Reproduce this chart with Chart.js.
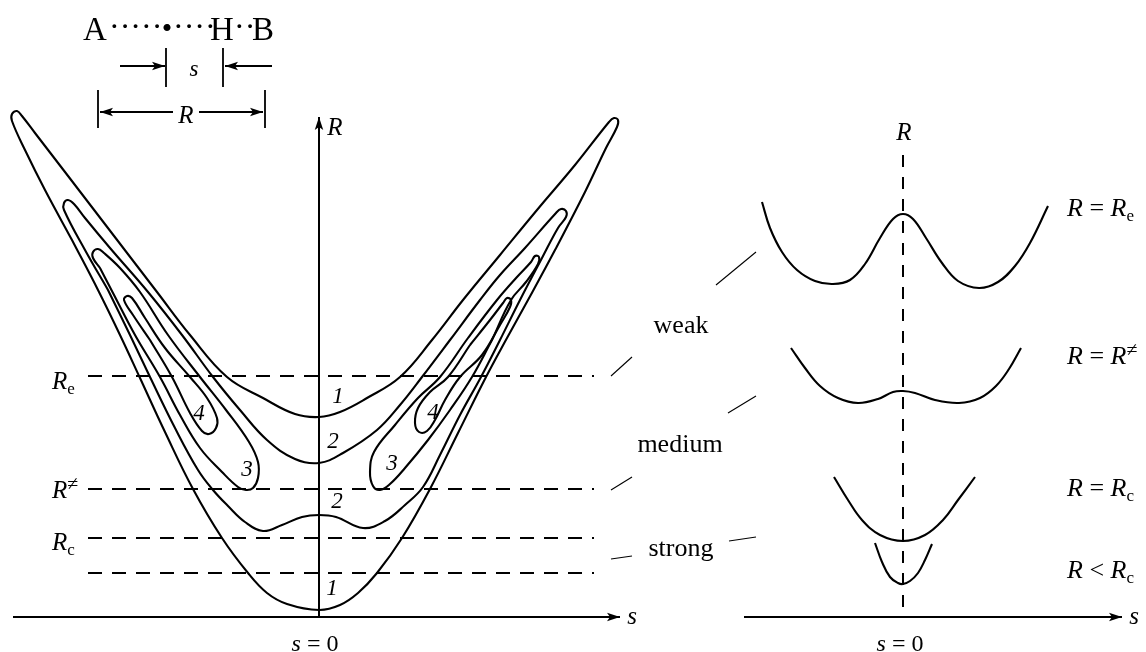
<!DOCTYPE html>
<html>
<head>
<meta charset="utf-8">
<script src="https://cdn.jsdelivr.net/npm/chart.js@4.4.1/dist/chart.umd.min.js"></script>
<style>
  html, body { margin: 0; padding: 0; background: #fff; }
  canvas { display: block; }
</style>
</head>
<body>
<canvas id="chart" width="1146" height="652"></canvas>
<script>
// Left panel: contour lines of the potential surface, s across, R up (s = 0 on the R axis)
// every contour is a closed loop of [s, R] points
const contour1 = [
  [-247, 377], [-221, 327], [-199, 282], [-179, 239], [-154, 185], [-126, 128], [-97, 79],
  [-71, 44], [-52, 24], [-32, 13], [0, 7], [21, 12], [39, 24], [58, 44], [83, 79], [111, 128],
  [139, 184], [167, 240], [188, 279], [209, 317], [236, 367], [266, 425], [287, 469], [298, 490],
  [299, 497], [295, 499], [290, 495], [256, 452], [218, 407], [181, 362], [144, 317], [113, 277],
  [81, 240], [48, 219], [21, 205], [0, 200], [-24, 203], [-56, 219], [-92, 240], [-129, 282],
  [-162, 325], [-208, 385], [-254, 445], [-284, 484], [-297, 501], [-302, 506], [-307, 503],
  [-307, 496], [-294, 467], [-274, 427], [-247, 377]
];
const contour2 = [
  [-211, 327], [-189, 282], [-169, 240], [-144, 189], [-121, 147], [-106, 127], [-91, 111],
  [-74, 95], [-56, 86], [-37, 92], [-17, 100], [0, 102], [17, 100], [44, 89], [66, 96],
  [86, 112], [104, 130], [121, 162], [141, 202], [162, 240], [181, 277], [201, 317], [223, 359],
  [239, 389], [247, 400], [247, 406], [242, 408], [237, 404], [206, 369], [181, 342], [161, 317],
  [131, 277], [103, 240], [81, 212], [58, 187], [24, 164], [0, 154], [-24, 158], [-52, 177],
  [-79, 207], [-106, 240], [-137, 282], [-171, 325], [-209, 369], [-234, 399], [-245, 413],
  [-251, 417], [-255, 414], [-255, 407], [-234, 367], [-211, 327]
];
const contour3Left = [
  [-219, 349], [-206, 324], [-184, 282], [-159, 240], [-139, 202], [-119, 169], [-97, 145],
  [-81, 130], [-73, 127], [-66, 129], [-61, 139], [-61, 155], [-70, 175], [-93, 207],
  [-119, 240], [-151, 282], [-179, 325], [-199, 349], [-215, 364], [-221, 368], [-226, 365],
  [-226, 359], [-219, 349]
];
const contour3Right = [
  [173, 277], [153, 240], [131, 207], [109, 177], [86, 149], [71, 133], [61, 127], [54, 131],
  [51, 145], [55, 165], [76, 192], [99, 219], [121, 240], [149, 279], [178, 317], [198, 340],
  [212, 355], [216, 361], [220, 360], [219, 353], [207, 335], [192, 317], [173, 277]
];
const contour4Left = [
  [-169, 277], [-147, 240], [-129, 204], [-117, 186], [-110, 183], [-103, 189], [-102, 199],
  [-112, 219], [-129, 240], [-154, 269], [-174, 299], [-187, 319], [-192, 321], [-195, 317],
  [-186, 302], [-169, 277]
];
const contour4Right = [
  [151, 272], [171, 297], [184, 314], [188, 319], [192, 317], [191, 310], [181, 292],
  [163, 262], [141, 240], [126, 217], [116, 197], [108, 186], [100, 185], [96, 194],
  [99, 209], [111, 225], [129, 240], [151, 272]
];
const contourLabels = ['1', '2', '2', '1', '4', '3', '3', '4'];

// horizontal cuts through the surface
const levelValues = [241, 128, 79, 44];
const levelNames = [
  [['R', 'i'], ['e', 'sub']],
  [['R', 'i'], ['\u2260', 'sup']],
  [['R', 'i'], ['c', 'sub']],
  null
];

// Right panel: potential along s for a fixed R (s = 0 on the dashed line)
const profileRe = [
  [-141, 415], [-133, 389], [-121, 365], [-106, 347], [-88, 336], [-70, 333], [-53, 337],
  [-38, 353], [-23, 379], [-10, 398], [0, 403], [10, 398], [23, 379], [39, 354], [55, 336],
  [76, 329], [95, 335], [112, 351], [127, 374], [145, 411]
];
const profileRts = [
  [-112, 269], [-98, 249], [-83, 231], [-65, 219], [-45, 214], [-25, 218], [-10, 225], [0, 226],
  [12, 224], [32, 217], [56, 214], [77, 219], [93, 231], [106, 248], [118, 269]
];
const profileRc = [
  [-69, 140], [-55, 117], [-41, 97], [-23, 82], [0, 76], [22, 82], [40, 97], [55, 117], [72, 140]
];
const profileBelow = [
  [-28, 74], [-21, 55], [-13, 40], [-5, 34], [0, 33], [7, 36], [15, 44], [22, 57], [29, 73]
];
const profileNames = [
  [['R', 'i'], [' = ', ''], ['R', 'i'], ['e', 'sub']],
  [['R', 'i'], [' = ', ''], ['R', 'i'], ['\u2260', 'sup']],
  [['R', 'i'], [' = ', ''], ['R', 'i'], ['c', 'sub']],
  [['R', 'i'], [' < ', ''], ['R', 'i'], ['c', 'sub']]
];
const couplingNames = ['weak', 'medium', 'strong'];

const SERIF = '"Liberation Serif", "DejaVu Serif", serif';

function makeArrow() {
  const c = document.createElement('canvas');
  c.width = 28; c.height = 10;
  const g = c.getContext('2d');
  g.fillStyle = '#000';
  g.beginPath();
  g.moveTo(14, 5); g.lineTo(1, 0.8); g.lineTo(4, 5); g.lineTo(1, 9.2);
  g.closePath();
  g.fill();
  return c;
}
const arrowImg = makeArrow();

function line(points, opts) {
  return Object.assign({
    data: points.map(([x, y]) => ({ x, y })),
    showLine: true, fill: false, borderColor: '#000', borderWidth: 2,
    pointRadius: 0, tension: 0, xAxisID: 'x', yAxisID: 'y'
  }, opts || {});
}
function arrowLine(points, rot, opts) {
  const last = points.length - 1;
  return line(points, Object.assign({
    pointStyle: arrowImg, rotation: rot,
    pointRadius: c => (c.dataIndex === last ? 6 : 0)
  }, opts || {}));
}
const curve = pts => line(pts, { tension: 0.4, borderWidth: 2.1 });
const rcurve = pts => line(pts, { tension: 0.4, borderWidth: 2.1, xAxisID: 'x2' });

const datasets = [
  curve(contour1), curve(contour2),
  curve(contour3Left), curve(contour3Right),
  curve(contour4Left), curve(contour4Right),
  // axes
  arrowLine([[-306, 0], [301, 0]], 0),
  arrowLine([[0, 0], [0, 500]], -90),
  arrowLine([[-159, 0], [219, 0]], 0, { xAxisID: 'x2' }),
  line([[0, 462], [0, 0]], { xAxisID: 'x2', borderDash: [12, 10] }),
  // A...H..B sketch: dimension marks
  arrowLine([[-199, 551], [-154, 551]], 0, { borderWidth: 1.8 }),
  arrowLine([[-47, 551], [-94, 551]], 180, { borderWidth: 1.8 }),
  line([[-153, 569], [-153, 530]], { borderWidth: 1.8 }),
  line([[-96, 569], [-96, 530]], { borderWidth: 1.8 }),
  arrowLine([[-146, 505], [-219, 505]], 180, { borderWidth: 1.8 }),
  arrowLine([[-120, 505], [-56, 505]], 0, { borderWidth: 1.8 }),
  line([[-221, 527], [-221, 489]], { borderWidth: 1.8 }),
  line([[-54, 527], [-54, 489]], { borderWidth: 1.8 }),
  // right panel profiles
  rcurve(profileRe), rcurve(profileRts), rcurve(profileRc), rcurve(profileBelow),
  // pointer strokes between the two panels
  line([[292, 241], [313, 260]], { borderWidth: 1.1 }),
  line([[397, 332], [437, 365]], { borderWidth: 1.1 }),
  line([[292, 127], [313, 140]], { borderWidth: 1.1 }),
  line([[409, 204], [437, 221]], { borderWidth: 1.1 }),
  line([[292, 58], [313, 61]], { borderWidth: 1.1 }),
  line([[410, 76], [437, 80]], { borderWidth: 1.1 })
];
levelValues.forEach(v => {
  datasets.push(line([[-231, v], [275, v]], { borderDash: [14, 10] }));
});

// text: x, y are the visual middle of capitals
const texts = [
  { parts: [['A', '']], x: -236, y: 588, size: 33, align: 'left' },
  { parts: [['\u00b7\u00b7\u00b7\u00b7\u00b7\u00b7', '']], x: -210, y: 591, size: 32, align: 'left' },
  { parts: [['\u2022', '']], x: -152, y: 589, size: 30 },
  { parts: [['\u00b7\u00b7\u00b7\u00b7', '']], x: -146, y: 591, size: 32, align: 'left' },
  { parts: [['H', '']], x: -109, y: 588, size: 33, align: 'left' },
  { parts: [['\u00b7\u00b7', '']], x: -85, y: 591, size: 32, align: 'left' },
  { parts: [['B', '']], x: -67, y: 588, size: 33, align: 'left' },
  { parts: [['s', 'i']], x: -125, y: 549, size: 23 },
  { parts: [['R', 'i']], x: -133, y: 503, size: 25 },
  { parts: [['R', 'i']], x: 16, y: 491, size: 25 },
  { parts: [['s', 'i']], x: 313, y: 2, size: 25 },
  { parts: [['s', 'i'], [' = 0', '']], x: -4, y: -26, size: 24 },
  { parts: [['R', 'i']], x: 1, y: 486, size: 25, axis: 'x2' },
  { parts: [['s', 'i']], x: 231, y: 2, size: 25, axis: 'x2' },
  { parts: [['s', 'i'], [' = 0', '']], x: -3, y: -26, size: 24, axis: 'x2' }
];
const levelLabelY = [237, 128, 76];
levelNames.forEach((p, i) => {
  if (p) texts.push({ parts: p, x: -267, y: levelLabelY[i], size: 25, align: 'left' });
});
const contourLabelPos = [[19, 222], [14, 177], [18, 117], [13, 30], [-120, 205], [-72, 149], [73, 155], [114, 206]];
contourLabels.forEach((t, i) => {
  texts.push({ parts: [[t, 'i']], x: contourLabelPos[i][0], y: contourLabelPos[i][1], size: 23 });
});
const couplingPos = [[362, 293], [361, 174], [362, 70]];
couplingNames.forEach((t, i) => {
  texts.push({ parts: [[t, '']], x: couplingPos[i][0], y: couplingPos[i][1], size: 26 });
});
const profileLabelY = [410, 262, 130, 48];
profileNames.forEach((p, i) => {
  texts.push({ parts: p, x: 164, y: profileLabelY[i], size: 26, align: 'left', axis: 'x2' });
});

function drawRich(ctx, parts, x, y, size, align) {
  const fontFor = k => {
    if (k === 'i') return `italic ${size}px ${SERIF}`;
    if (k === 'sub') return `${Math.round(size * 0.66)}px ${SERIF}`;
    if (k === 'sup') return `${Math.round(size * 0.78)}px ${SERIF}`;
    return `${size}px ${SERIF}`;
  };
  let w = 0;
  const ws = parts.map(([t, k]) => {
    ctx.font = fontFor(k);
    const m = ctx.measureText(t).width;
    w += m;
    return m;
  });
  let cx = align === 'left' ? x : x - w / 2;
  const base = y + size * 0.34;
  parts.forEach(([t, k], i) => {
    ctx.font = fontFor(k);
    let dy = 0;
    if (k === 'sub') dy = size * 0.2;
    if (k === 'sup') dy = -size * 0.3;
    ctx.fillText(t, cx, base + dy);
    cx += ws[i];
  });
}

const textPlugin = {
  id: 'texts',
  afterDatasetsDraw(chart) {
    const ctx = chart.ctx;
    ctx.save();
    ctx.fillStyle = '#000';
    ctx.textAlign = 'left';
    ctx.textBaseline = 'alphabetic';
    texts.forEach(t => {
      const xs = chart.scales[t.axis || 'x'];
      drawRich(ctx, t.parts, xs.getPixelForValue(t.x), chart.scales.y.getPixelForValue(t.y), t.size, t.align);
    });
    ctx.restore();
  }
};

new Chart(document.getElementById('chart'), {
  type: 'scatter',
  data: { datasets },
  options: {
    responsive: false,
    animation: false,
    devicePixelRatio: 1,
    events: [],
    layout: { padding: 0, autoPadding: false },
    plugins: { legend: { display: false }, tooltip: { enabled: false } },
    scales: {
      x: { type: 'linear', min: -319, max: 827, display: false },
      x2: { type: 'linear', min: -903, max: 243, display: false },
      y: { type: 'linear', min: -35, max: 617, display: false }
    }
  },
  plugins: [textPlugin]
});
</script>
</body>
</html>
